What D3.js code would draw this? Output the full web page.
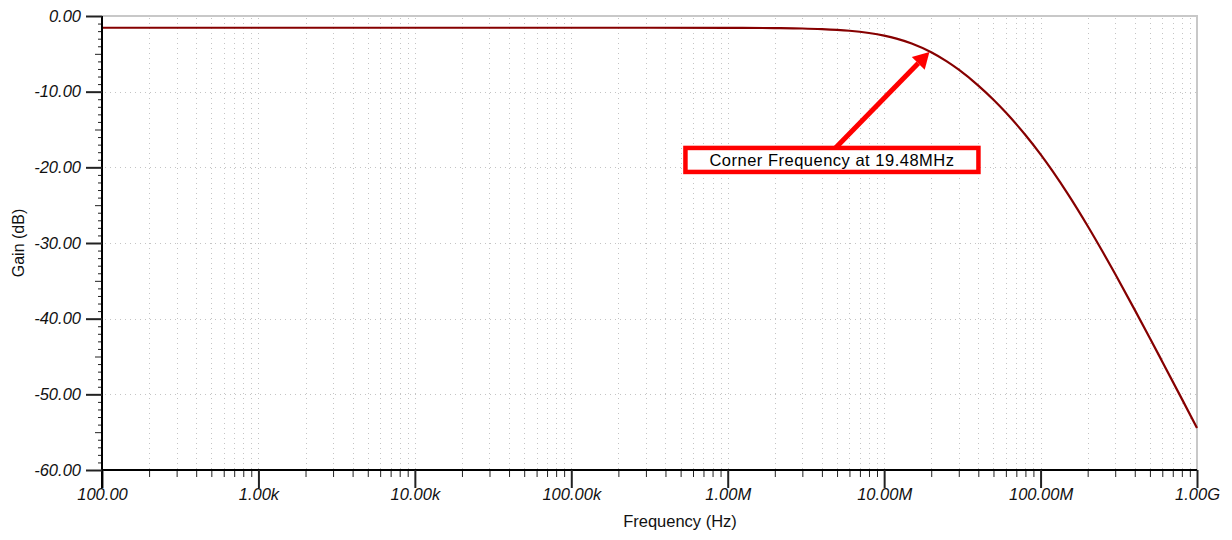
<!DOCTYPE html>
<html>
<head>
<meta charset="utf-8">
<script src="https://cdn.jsdelivr.net/npm/d3@7"></script>
<style>
  body { margin: 0; background: #fff; }
  svg { display: block; font-family: "Liberation Sans", Arial, sans-serif; }
</style>
</head>
<body>
<div class="chart"></div>
<script>
// frequency response (Hz, dB)
const freqs = [100, 1e3, 1e4, 1e5, 1e6, 2e6, 3e6, 4e6, 5e6, 6e6, 8e6,
  1e7, 1.2e7, 1.5e7, 2e7, 2.5e7, 3e7, 4e7, 5e7, 6e7, 8e7,
  1e8, 1.2e8, 1.5e8, 2e8, 2.5e8, 3e8, 4e8, 5e8, 6e8, 8e8, 1e9];
const gains = [-1.55, -1.55, -1.55, -1.55, -1.56, -1.60, -1.65, -1.73, -1.83, -1.95, -2.25,
  -2.60, -2.99, -3.64, -4.80, -5.97, -7.10, -9.20, -11.07, -12.76, -15.73,
  -18.29, -20.57, -23.57, -27.75, -31.19, -34.10, -38.84, -42.58, -45.68, -50.60, -54.45];

const xMajor = [100, 1e3, 1e4, 1e5, 1e6, 1e7, 1e8, 1e9];
const xLabels = ['100.00', '1.00k', '10.00k', '100.00k', '1.00M', '10.00M', '100.00M', '1.00G'];
const yMajor = [0, -10, -20, -30, -40, -50, -60];
const yLabels = ['0.00', '-10.00', '-20.00', '-30.00', '-40.00', '-50.00', '-60.00'];

const cornerFreq = 19.48e6;
const cornerGain = -4.75;
const noteText = 'Corner Frequency at 19.48MHz';

const W = 1232, H = 540;
const margin = { left: 102, right: 1197, top: 16, bottom: 470 };

const x = d3.scaleLog().domain([100, 1e9]).range([margin.left, margin.right]);
const y = d3.scaleLinear().domain([-60, 0]).range([margin.bottom, margin.top]);

// minor ticks 2..9 in every decade
let xMinor = [];
xMajor.slice(0, -1).forEach(d => {
  for (let k = 2; k <= 9; k++) xMinor.push(d * k);
});
let yMinor = d3.range(-60, 1, 1).filter(d => d % 5 != 0);
let yMid = d3.range(-55, 0, 10);

const svg = d3.select('.chart').append('svg')
  .attr('width', W)
  .attr('height', H);

// dotted grid
svg.append('g')
  .selectAll('line')
  .data(xMinor.concat(xMajor.slice(1, -1)))
  .enter().append('line')
  .attr('x1', d => Math.round(x(d)) + 0.5)
  .attr('x2', d => Math.round(x(d)) + 0.5)
  .attr('y1', margin.top + 2)
  .attr('y2', margin.bottom)
  .style('stroke', '#c4c4c4')
  .style('stroke-width', 1)
  .style('stroke-dasharray', '1,4');

svg.append('g')
  .selectAll('line')
  .data(yMajor.slice(1, -1))
  .enter().append('line')
  .attr('x1', margin.left + 3)
  .attr('x2', margin.right)
  .attr('y1', d => Math.round(y(d)) + 0.5)
  .attr('y2', d => Math.round(y(d)) + 0.5)
  .style('stroke', '#c4c4c4')
  .style('stroke-width', 1)
  .style('stroke-dasharray', '1,4');

// top and right frame
svg.append('path')
  .attr('d', 'M' + margin.left + ',' + margin.top + 'H' + margin.right + 'V' + margin.bottom)
  .style('fill', 'none')
  .style('stroke', '#c8c8c8')
  .style('stroke-width', 2);

// curve
const line = d3.line()
  .x((d, i) => x(freqs[i]))
  .y(d => y(d))
  .curve(d3.curveMonotoneX);

svg.append('path')
  .datum(gains)
  .attr('d', line)
  .style('fill', 'none')
  .style('stroke', '#860000')
  .style('stroke-width', 2.2);

// x axis
const xAxisMinor = d3.axisBottom(x).tickValues(xMinor).tickSize(7).tickFormat('');
const xAxis = d3.axisBottom(x).tickValues(xMajor).tickSize(18).tickPadding(0)
  .tickFormat((d, i) => xLabels[i]);

svg.append('g')
  .attr('transform', 'translate(0,' + margin.bottom + ')')
  .call(xAxisMinor)
  .call(g => g.select('.domain').remove());

const gx = svg.append('g')
  .attr('transform', 'translate(0,' + margin.bottom + ')')
  .call(xAxis);
gx.select('.domain').attr('d', 'M' + margin.left + ',0H' + margin.right).style('stroke-width', 2);
gx.selectAll('.tick line').style('stroke-width', 2);
gx.selectAll('text')
  .style('font-size', '16.5px')
  .style('font-style', 'italic')
  .style('fill', '#111');

// y axis
svg.append('g')
  .attr('transform', 'translate(' + margin.left + ',0)')
  .call(d3.axisLeft(y).tickValues(yMinor).tickSize(4).tickFormat(''))
  .call(g => g.select('.domain').remove());

svg.append('g')
  .attr('transform', 'translate(' + margin.left + ',0)')
  .call(d3.axisLeft(y).tickValues(yMid).tickSize(7).tickFormat(''))
  .call(g => g.select('.domain').remove());

const gy = svg.append('g')
  .attr('transform', 'translate(' + margin.left + ',0)')
  .call(d3.axisLeft(y).tickValues(yMajor).tickSize(16).tickPadding(5)
    .tickFormat((d, i) => yLabels[i]));
gy.select('.domain').attr('d', 'M0,' + margin.top + 'V' + (margin.bottom + 18)).style('stroke-width', 2);
gy.selectAll('.tick line').style('stroke-width', 2);
gy.selectAll('text')
  .style('font-size', '16.5px')
  .style('font-style', 'italic')
  .style('fill', '#111');

svg.selectAll('.tick line').style('stroke', '#222');

// axis titles
svg.append('text')
  .attr('text-anchor', 'middle')
  .attr('transform', 'translate(' + 24 + ',' + ((margin.top + margin.bottom) / 2) + ')rotate(-90)')
  .style('font-size', '16px')
  .style('fill', '#111')
  .text('Gain (dB)');

svg.append('text')
  .attr('text-anchor', 'middle')
  .attr('x', 680)
  .attr('y', 527)
  .style('font-size', '16.5px')
  .style('fill', '#111')
  .text('Frequency (Hz)');

// annotation: arrow + red box
const tipX = x(cornerFreq), tipY = y(cornerGain);
const boxW = 293, boxH = 24;
const boxX = tipX - 244, boxY = tipY + 96;
const startX = boxX + 150, startY = boxY;

const ang = Math.atan2(tipY - startY, tipX - startX);
const headLen = 16, headW = 9;
const baseX = tipX - headLen * Math.cos(ang), baseY = tipY - headLen * Math.sin(ang);

svg.append('line')
  .attr('x1', startX)
  .attr('y1', startY)
  .attr('x2', baseX)
  .attr('y2', baseY)
  .style('stroke', '#ff0000')
  .style('stroke-width', 5);

svg.append('path')
  .attr('d', 'M' + tipX + ',' + tipY +
    'L' + (baseX + headW * Math.sin(ang)) + ',' + (baseY - headW * Math.cos(ang)) +
    'L' + (baseX - headW * Math.sin(ang)) + ',' + (baseY + headW * Math.cos(ang)) + 'Z')
  .style('fill', '#ff0000');

svg.append('rect')
  .attr('x', boxX)
  .attr('y', boxY)
  .attr('width', boxW)
  .attr('height', boxH)
  .style('fill', '#fff')
  .style('stroke', '#ff0000')
  .style('stroke-width', 4.5);

svg.append('text')
  .attr('x', boxX + boxW / 2)
  .attr('y', boxY + boxH / 2)
  .attr('dy', '0.36em')
  .attr('text-anchor', 'middle')
  .style('font-size', '16.5px')
  .style('letter-spacing', '0.5px')
  .style('fill', '#000')
  .text(noteText);
</script>
</body>
</html>
